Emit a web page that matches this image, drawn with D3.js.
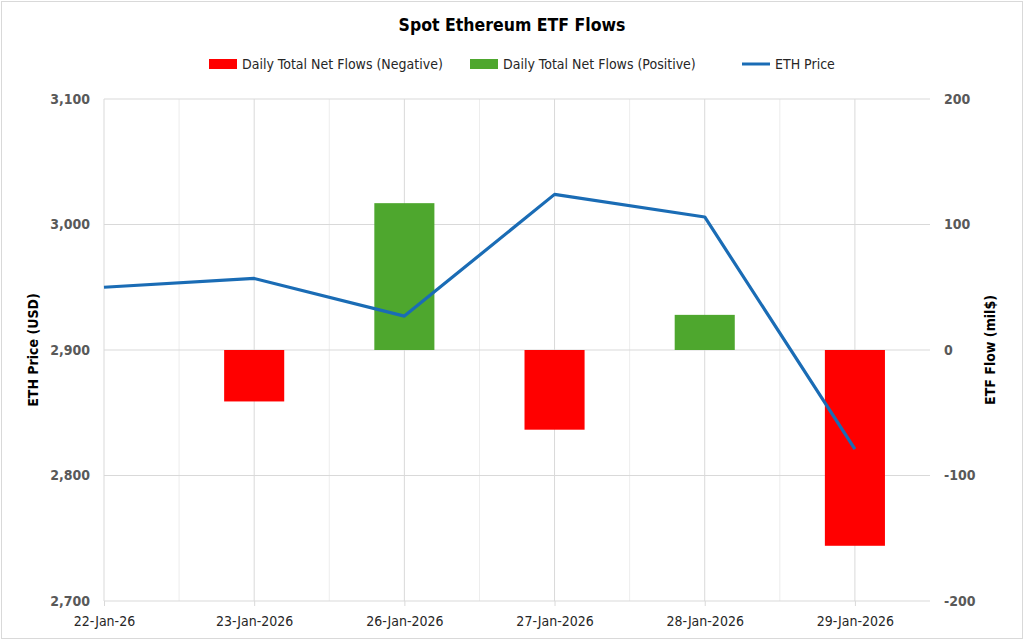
<!DOCTYPE html>
<html>
<head>
<meta charset="utf-8">
<script src="https://cdn.jsdelivr.net/npm/d3@7"></script>
<style>
body { margin: 0; background: #fff; }
text { font-family: "DejaVu Sans Condensed", "Liberation Sans", sans-serif; }
</style>
</head>
<body>
<div id="chart"></div>
<script>
const width = 1024;
const height = 640;
const margin = {top: 99, bottom: 39, left: 104, right: 94};

// podaci
const dates = ["22-Jan-26", "23-Jan-2026", "26-Jan-2026", "27-Jan-2026", "28-Jan-2026", "29-Jan-2026"];
const ethPrice = [2950, 2957, 2927, 3024, 3006, 2821];
const netFlows = [0, -41, 117, -63.5, 28, -156];
const priceTicks = [2700, 2800, 2900, 3000, 3100];
const flowTicks = [-200, -100, 0, 100, 200];

const svg = d3.select("#chart").append("svg")
    .attr("width", width)
    .attr("height", height);

svg.append("rect")
    .attr("x", 1.5).attr("y", 1.5)
    .attr("width", width - 3).attr("height", height - 3)
    .attr("fill", "#fff").attr("stroke", "#d9d9d9");

const plotW = width - margin.left - margin.right;
const plotH = height - margin.top - margin.bottom;

// kategorije na indeksima, os ide do 5.5 (kao u Excelu)
const xScale = d3.scaleLinear().domain([0, 5.5]).range([margin.left, margin.left + plotW]);
const yLeft = d3.scaleLinear().domain([2700, 3100]).range([margin.top + plotH, margin.top]);
const yRight = d3.scaleLinear().domain([-200, 200]).range([margin.top + plotH, margin.top]);

const g = svg.append("g");

// vertikalne linije mreže (svaka pola kategorije)
const halfSteps = d3.range(1, 11).map(d => d / 2);
g.append("g").selectAll("line").data(halfSteps)
    .enter().append("line")
    .attr("x1", d => xScale(d)).attr("x2", d => xScale(d))
    .attr("y1", margin.top).attr("y2", margin.top + plotH)
    .attr("stroke", d => d % 1 === 0 ? "#d9d9d9" : "#ededed")
    .attr("stroke-width", 1);

// horizontalne linije
g.append("g").selectAll("line").data(priceTicks)
    .enter().append("line")
    .attr("x1", margin.left).attr("x2", margin.left + plotW)
    .attr("y1", d => yLeft(d)).attr("y2", d => yLeft(d))
    .attr("stroke", "#d9d9d9");

// lijeva granica
g.append("line")
    .attr("x1", margin.left).attr("x2", margin.left)
    .attr("y1", margin.top).attr("y2", margin.top + plotH)
    .attr("stroke", "#d9d9d9");

// x os
const xAxis = g.append("g")
    .attr("transform", `translate(0,${margin.top + plotH})`)
    .call(d3.axisBottom(xScale)
        .tickValues(d3.range(dates.length))
        .tickFormat(i => dates[i])
        .tickSize(5)
        .tickPadding(10));
xAxis.select(".domain").remove();
xAxis.selectAll(".tick line").attr("stroke", "#d9d9d9");
xAxis.selectAll(".tick text")
    .attr("fill", "#262626")
    .attr("font-size", 14)
    .attr("font-family", "DejaVu Sans Condensed, sans-serif");

// lijeva os
const leftAxis = g.append("g")
    .attr("transform", `translate(${margin.left},0)`)
    .call(d3.axisLeft(yLeft).tickValues(priceTicks).tickFormat(d3.format(",")).tickSize(0).tickPadding(14));
leftAxis.select(".domain").remove();
leftAxis.selectAll(".tick text")
    .attr("fill", "#595959").attr("font-size", 14).attr("font-weight", "bold")
    .attr("font-family", "Liberation Sans, sans-serif");

// desna os (obični minus kao u originalu)
const rightAxis = g.append("g")
    .attr("transform", `translate(${margin.left + plotW},0)`)
    .call(d3.axisRight(yRight).tickValues(flowTicks).tickFormat(d => String(d)).tickSize(0).tickPadding(14));
rightAxis.select(".domain").remove();
rightAxis.selectAll(".tick text")
    .attr("fill", "#595959").attr("font-size", 14).attr("font-weight", "bold")
    .attr("font-family", "Liberation Sans, sans-serif");

// stupci
const barW = (xScale(1) - xScale(0)) * 0.4;
g.append("g").selectAll("rect")
    .data(netFlows.map((v, i) => ({i: i, value: v})).filter(d => d.value !== 0))
    .enter().append("rect")
    .attr("x", d => xScale(d.i) - barW / 2)
    .attr("y", d => yRight(Math.max(0, d.value)))
    .attr("width", barW)
    .attr("height", d => Math.abs(yRight(d.value) - yRight(0)))
    .attr("fill", d => d.value < 0 ? "#ff0000" : "#4ea72e");

// linija cijene
const line = d3.line()
    .x((d, i) => xScale(i))
    .y(d => yLeft(d));
g.append("path")
    .datum(ethPrice)
    .attr("d", line)
    .attr("fill", "none")
    .attr("stroke", "#1a6cb5")
    .attr("stroke-width", 3.2)
    .attr("stroke-linejoin", "round");

// naslov
svg.append("text")
    .attr("x", width / 2).attr("y", 31)
    .attr("text-anchor", "middle")
    .attr("font-size", 17.5).attr("font-weight", "bold").attr("fill", "#000")
    .text("Spot Ethereum ETF Flows");

// osi naslovi
svg.append("text")
    .attr("transform", `translate(38,${margin.top + plotH / 2}) rotate(-90)`)
    .attr("text-anchor", "middle")
    .attr("font-size", 14).attr("font-weight", "bold")
    .attr("font-family", "Liberation Sans, sans-serif")
    .text("ETH Price (USD)");
svg.append("text")
    .attr("transform", `translate(995,${margin.top + plotH / 2}) rotate(-90)`)
    .attr("text-anchor", "middle")
    .attr("font-size", 14).attr("font-weight", "bold")
    .attr("font-family", "Liberation Sans, sans-serif")
    .text("ETF Flow (mil$)");

// legenda
const legend = [
    {label: "Daily Total Net Flows (Negative)", color: "#ff0000", type: "rect", x: 209},
    {label: "Daily Total Net Flows (Positive)", color: "#4ea72e", type: "rect", x: 470},
    {label: "ETH Price", color: "#1a6cb5", type: "line", x: 742}
];
const lg = svg.append("g").selectAll("g").data(legend).enter().append("g")
    .attr("transform", d => `translate(${d.x},64)`);
lg.filter(d => d.type === "rect").append("rect")
    .attr("x", 0).attr("y", -5).attr("width", 28).attr("height", 10)
    .attr("fill", d => d.color);
lg.filter(d => d.type === "line").append("line")
    .attr("x1", 0).attr("x2", 28).attr("y1", 0).attr("y2", 0)
    .attr("stroke", d => d.color).attr("stroke-width", 3);
lg.append("text")
    .attr("x", 33).attr("y", 5)
    .attr("font-size", 14).attr("fill", "#262626")
    .text(d => d.label);
</script>
</body>
</html>
